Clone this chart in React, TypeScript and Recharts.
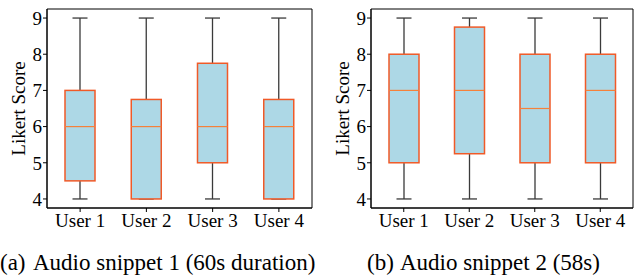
import React from "react"
import { ComposedChart, Bar, XAxis, YAxis, ReferenceArea } from "recharts"

const users = ["User 1", "User 2", "User 3", "User 4"]

// (a) Audio snippet 1
const snippet1Min = [4, 4, 4, 4]
const snippet1Q1 = [4.5, 4, 5, 4]
const snippet1Median = [6, 6, 6, 6]
const snippet1Q3 = [7, 6.75, 7.75, 6.75]
const snippet1Max = [9, 9, 9, 9]

// (b) Audio snippet 2
const snippet2Min = [4, 4, 4, 4]
const snippet2Q1 = [5, 5.25, 5, 5]
const snippet2Median = [7, 7, 6.5, 7]
const snippet2Q3 = [8, 8.75, 8, 8]
const snippet2Max = [9, 9, 9, 9]

const yTicks = [4, 5, 6, 7, 8, 9]

const FONT = "'Liberation Serif', 'Times New Roman', serif"

const buildRows = (min: number[], q1: number[], med: number[], q3: number[], max: number[]) =>
  users.map((user, i) => ({ user, min: min[i], q1: q1[i], median: med[i], q3: q3[i], max: max[i] }))

const BoxShape = (props: any) => {
  const { x, y, width, height, payload } = props
  if (!payload) return null
  const { min, q1, median, q3, max } = payload
  const k = height / (max - min)
  const py = (v: number) => y + (max - v) * k
  const cx = x + width / 2
  const capHalf = width / 4
  const whisker = "#3a3a3a"
  return (
    <g>
      <line x1={cx} x2={cx} y1={py(max)} y2={py(q3)} stroke={whisker} strokeWidth={1.3} />
      <line x1={cx} x2={cx} y1={py(q1)} y2={py(min)} stroke={whisker} strokeWidth={1.3} />
      <line x1={cx - capHalf} x2={cx + capHalf} y1={py(max)} y2={py(max)} stroke={whisker} strokeWidth={1.3} />
      <line x1={cx - capHalf} x2={cx + capHalf} y1={py(min)} y2={py(min)} stroke={whisker} strokeWidth={1.3} />
      <rect x={x} y={py(q3)} width={width} height={py(q1) - py(q3)} fill="#add8e6" stroke="#f05a28" strokeWidth={1.5} />
      <line x1={x} x2={x + width} y1={py(median)} y2={py(median)} stroke="#f5813a" strokeWidth={1.2} />
    </g>
  )
}

interface PanelProps {
  rows: any[]
  yAxisWidth: number
  labelOffset: number
  marginRight: number
}

const BoxPanel = ({ rows, yAxisWidth, labelOffset, marginRight }: PanelProps) => (
  <ComposedChart width={317} height={232} data={rows} margin={{ top: 9, right: marginRight, bottom: 0, left: 0 }}>
    <ReferenceArea y1={3.75} y2={9.25} fill="none" stroke="#000" strokeWidth={1} ifOverflow="visible" />
    <XAxis
      dataKey="user"
      interval={0}
      height={24}
      tickSize={4}
      tickMargin={2}
      axisLine={{ stroke: "#000" }}
      tickLine={{ stroke: "#000" }}
      tick={{ fill: "#000", fontSize: 19, fontFamily: FONT }}
    />
    <YAxis
      type="number"
      domain={[3.75, 9.25]}
      ticks={yTicks}
      width={yAxisWidth}
      tickSize={4}
      tickMargin={1}
      axisLine={{ stroke: "#000" }}
      tickLine={{ stroke: "#000" }}
      tick={{ fill: "#000", fontSize: 19, fontFamily: FONT }}
      label={{
        value: "Likert Score",
        angle: -90,
        position: "insideLeft",
        offset: labelOffset,
        fill: "#000",
        fontSize: 19,
        fontFamily: FONT,
        style: { textAnchor: "middle" },
      }}
    />
    <Bar dataKey={(d: any) => [d.min, d.max]} barSize={30} shape={BoxShape} isAnimationActive={false} />
  </ComposedChart>
)

const captionStyle: React.CSSProperties = {
  position: "absolute",
  top: 251,
  fontFamily: FONT,
  fontSize: 23,
  lineHeight: "23px",
  whiteSpace: "nowrap",
  color: "#000",
}

export default function App() {
  const rowsA = buildRows(snippet1Min, snippet1Q1, snippet1Median, snippet1Q3, snippet1Max)
  const rowsB = buildRows(snippet2Min, snippet2Q1, snippet2Median, snippet2Q3, snippet2Max)
  return (
    <div style={{ position: "absolute", left: 0, top: 0, width: 634, height: 277, background: "#fff", overflow: "hidden" }}>
      <div style={{ position: "absolute", left: 0, top: 0 }}>
        <BoxPanel rows={rowsA} yAxisWidth={47} labelOffset={18} marginRight={5} />
      </div>
      <div style={{ position: "absolute", left: 317, top: 0 }}>
        <BoxPanel rows={rowsB} yAxisWidth={54} labelOffset={25} marginRight={1} />
      </div>
      <div style={{ ...captionStyle, left: 0 }}>(a)</div>
      <div style={{ ...captionStyle, left: 33 }}>Audio snippet 1 (60s duration)</div>
      <div style={{ ...captionStyle, left: 367 }}>(b)</div>
      <div style={{ ...captionStyle, left: 400 }}>Audio snippet 2 (58s)</div>
    </div>
  )
}
